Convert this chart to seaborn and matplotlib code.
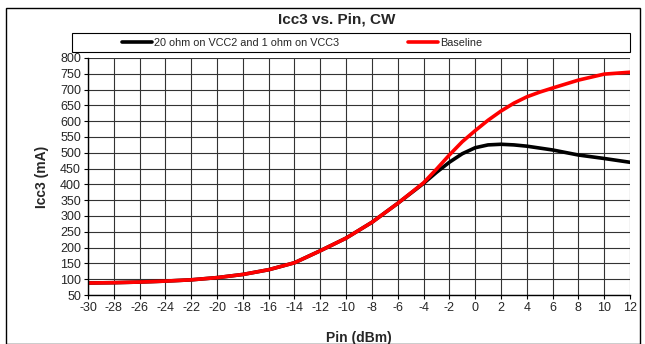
import numpy as np
import pandas as pd
import matplotlib.pyplot as plt
import seaborn as sns
from matplotlib.patches import Rectangle

# Data
pin = [-30, -28, -26, -24, -22, -20, -18, -16, -14, -12, -10, -8, -6, -4, -3, -2, -1, 0, 1, 2, 3, 4, 5, 6, 8, 10, 12]
icc3_baseline = [88, 89, 91, 94, 98, 105, 115, 130, 152, 190, 230, 280, 340, 405, 448, 493, 535, 570, 603, 632, 657, 677, 692, 705, 730, 749, 755]
icc3_mod = [88, 89, 91, 94, 98, 105, 115, 130, 152, 190, 230, 280, 340, 403, 438, 470, 497, 516, 525, 527, 525, 521, 515, 509, 493, 482, 470]

label_mod = "20 ohm on VCC2 and 1 ohm on VCC3"
label_base = "Baseline"

df = pd.DataFrame({
    "Pin": pin * 2,
    "Icc3": icc3_mod + icc3_baseline,
    "series": [label_mod] * len(pin) + [label_base] * len(pin),
})

sns.set_style("white")
plt.rcParams['font.family'] = ['Liberation Sans', 'DejaVu Sans']
plt.rcParams['axes.unicode_minus'] = False

fig = plt.figure(figsize=(6.45, 3.44), dpi=100)
ax = fig.add_axes([88 / 645, 1 - 295 / 344, (630 - 88) / 645, (295 - 58) / 344])

sns.lineplot(data=df, x="Pin", y="Icc3", hue="series",
             palette={label_mod: "black", label_base: "#ff0000"},
             linewidth=2.6, ax=ax, legend=False)

ax.set_xlim(-30, 12)
ax.set_ylim(50, 800)
ax.set_xticks(np.arange(-30, 13, 2))
ax.set_yticks(np.arange(50, 801, 50))
ax.grid(True, color="#333333", linewidth=0.8)
ax.tick_params(axis="both", labelsize=9, length=3, width=0.8, color="black",
               direction="out", pad=2, left=True, bottom=True)
for s in ["top", "right"]:
    ax.spines[s].set_visible(False)
for s in ["left", "bottom"]:
    ax.spines[s].set_color("black")
    ax.spines[s].set_linewidth(1.0)

ax.set_xlabel("Pin (dBm)", fontsize=10, fontweight="bold", labelpad=12)
ax.set_ylabel("Icc3 (mA)", fontsize=10, fontweight="bold", labelpad=8)

fig.text(337 / 645, 1 - 20 / 344, "Icc3 vs. Pin, CW", ha="center", va="center",
         fontsize=11, fontweight="bold")

# legend box
fig.patches.append(Rectangle((72 / 645, 1 - 52 / 344), (630 - 72) / 645, 19 / 344,
                             transform=fig.transFigure, fill=False,
                             edgecolor="black", linewidth=0.8))
handles = [plt.Line2D([], [], color="black", lw=2.6),
           plt.Line2D([], [], color="#ff0000", lw=2.6)]
fig.legend(handles, [label_mod, label_base], ncol=2, loc="center",
           bbox_to_anchor=(302 / 645, 1 - 42.5 / 344),
           fontsize=7.8, frameon=False, borderpad=0.0, handlelength=2.8,
           handletextpad=0.15, columnspacing=6.4)

# outer chart border
fig.patches.append(Rectangle((6 / 645, 0), (640 - 6) / 645, 1 - 8 / 344,
                             transform=fig.transFigure, fill=False,
                             edgecolor="black", linewidth=1.0))

fig.savefig("out.png", dpi=100)
